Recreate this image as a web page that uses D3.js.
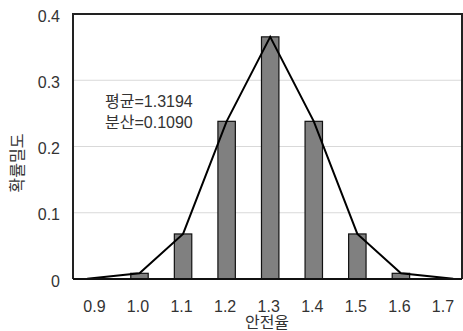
<!DOCTYPE html>
<html>
<head>
<meta charset="utf-8">
<script src="https://cdn.jsdelivr.net/npm/d3@7"></script>
<style>
  body { margin: 0; background: #fff; }
  text { font-family: "Liberation Sans", "Noto Sans CJK KR", sans-serif; fill: #333; }
</style>
</head>
<body>
<svg width="463" height="331"></svg>
<script>
  // bar data: safety factor bins and probability density
  let bins = [1.0, 1.1, 1.2, 1.3, 1.4, 1.5, 1.6];
  let density = [0.0086, 0.068, 0.238, 0.3655, 0.238, 0.068, 0.0086];

  // fitted line points
  let lineX = [0.88, 1.0, 1.1, 1.2, 1.3, 1.4, 1.5, 1.6, 1.72];
  let lineY = [0.0005, 0.0086, 0.068, 0.238, 0.3655, 0.238, 0.068, 0.0086, 0.0005];

  let xTicks = [0.9, 1.0, 1.1, 1.2, 1.3, 1.4, 1.5, 1.6, 1.7];
  let yTicks = [0, 0.1, 0.2, 0.3, 0.4];

  let padL = 73, padR = 462, padT = 14, padB = 279;

  let svg = d3.select("svg");

  let x = d3.scaleLinear()
      .domain([0.8474, 1.7402])
      .range([padL, padR]);

  let y = d3.scaleLinear()
      .domain([0, 0.4])
      .range([padB, padT]);

  // grid lines
  svg.append("g")
    .selectAll("line")
    .data(yTicks.filter((d) => d > 0 && d < 0.4))
    .enter().append("line")
      .attr("x1", padL)
      .attr("x2", padR)
      .attr("y1", (d) => y(d))
      .attr("y2", (d) => y(d))
      .attr("stroke", "#d9d9d9")
      .attr("stroke-width", 1);

  // bars
  let barW = x(1.04) - x(1.0);
  svg.append("g")
    .selectAll("rect")
    .data(bins)
    .enter().append("rect")
      .attr("x", (d) => x(d) - barW / 2)
      .attr("y", (d, i) => y(density[i]))
      .attr("width", barW)
      .attr("height", (d, i) => y(0) - y(density[i]))
      .attr("fill", "#808080")
      .attr("stroke", "#111")
      .attr("stroke-width", 1.2);

  // line
  let line = d3.line()
      .x((d) => x(d))
      .y((d, i) => y(lineY[i]));

  svg.append("path")
      .datum(lineX)
      .attr("d", line)
      .attr("fill", "none")
      .attr("stroke", "#000")
      .attr("stroke-width", 2);

  // frame
  svg.append("path")
      .attr("d", `M${padL},${padB}V${padT}H${padR}V${padB}`)
      .attr("fill", "none")
      .attr("stroke", "#222")
      .attr("stroke-width", 2);

  svg.append("line")
      .attr("x1", padL).attr("x2", padR)
      .attr("y1", padB).attr("y2", padB)
      .attr("stroke", "#111")
      .attr("stroke-width", 2);

  // y tick labels
  svg.append("g")
    .selectAll("text")
    .data(yTicks)
    .enter().append("text")
      .attr("x", 60)
      .attr("y", (d) => y(d) + 2)
      .attr("dy", ".35em")
      .attr("text-anchor", "end")
      .style("font-size", "16px")
      .text((d) => d === 0 ? "0" : d.toFixed(1));

  // x tick labels
  svg.append("g")
    .selectAll("text")
    .data(xTicks)
    .enter().append("text")
      .attr("x", (d) => x(d) - 1.5)
      .attr("y", 312)
      .attr("text-anchor", "middle")
      .style("font-size", "16px")
      .text((d) => d.toFixed(1));

  // axis titles
  svg.append("text")
      .attr("x", 267)
      .attr("y", 328)
      .attr("text-anchor", "middle")
      .style("font-size", "16px")
      .text("안전율");

  svg.append("text")
      .attr("transform", "translate(23,163) rotate(-90)")
      .attr("text-anchor", "middle")
      .style("font-size", "16px")
      .text("확률밀도");

  // annotation
  svg.append("text")
      .attr("x", 105)
      .attr("y", 107)
      .style("font-size", "16px")
      .text("평균=1.3194");

  svg.append("text")
      .attr("x", 105)
      .attr("y", 128)
      .style("font-size", "16px")
      .text("분산=0.1090");
</script>
</body>
</html>
